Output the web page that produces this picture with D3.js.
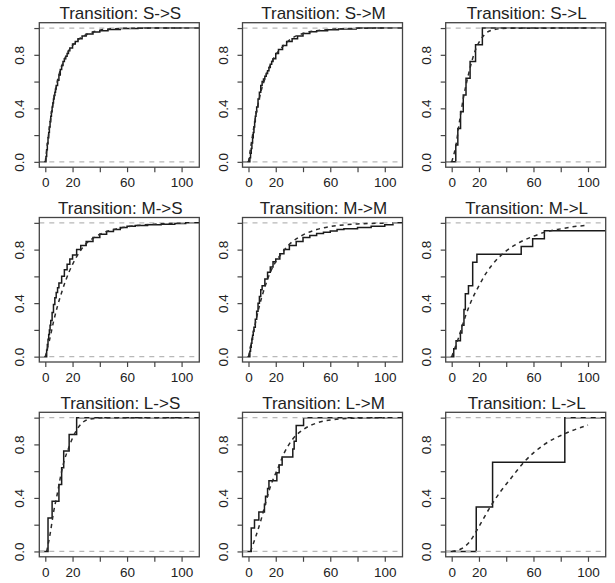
<!DOCTYPE html>
<html>
<head>
<meta charset="utf-8">
<script src="https://cdn.jsdelivr.net/npm/d3@7"></script>
<style>
  body { margin: 0; background: #fff; }
  svg { display: block; }
</style>
</head>
<body>
<svg id="chart" width="615" height="583"></svg>
<script>
// Panel titles, row by row
const transitions = ["S->S", "S->M", "S->L", "M->S", "M->M", "M->L", "L->S", "L->M", "L->L"];

// Empirical CDFs: [time, level after the jump]
const ecdfSS = [[0.5,0.04],[1,0.09],[1.5,0.135],[2,0.18],[2.5,0.22],[3,0.26],[3.5,0.3],[4,0.34],[4.5,0.375],[5,0.41],[5.5,0.44],[6,0.47],[6.5,0.495],[7,0.52],[7.5,0.545],[8,0.57],[9,0.61],[10,0.65],[11,0.69],[12,0.72],[13,0.75],[14,0.77],[15,0.79],[16,0.81],[17,0.83],[18,0.85],[20,0.88],[22,0.9],[24,0.92],[27,0.94],[30,0.955],[35,0.97],[40,0.98],[46,0.99],[55,0.997],[68,1]];
const ecdfSM = [[1,0.03],[1.5,0.065],[2,0.1],[2.5,0.14],[3,0.18],[3.5,0.22],[4,0.26],[4.5,0.3],[5,0.34],[5.5,0.375],[6,0.41],[7,0.47],[8,0.52],[9,0.57],[10,0.6],[11,0.62],[12,0.64],[13,0.66],[14,0.68],[15,0.705],[16,0.73],[17,0.75],[18,0.77],[20,0.81],[22,0.84],[25,0.87],[28,0.9],[32,0.92],[36,0.94],[40,0.96],[45,0.972],[50,0.98],[58,0.987],[66,0.992],[79,1]];
const ecdfSL = [[3,0.125],[4.5,0.25],[6.5,0.375],[8.5,0.5],[10.5,0.625],[13.5,0.75],[17.5,0.875],[22.5,1]];
const ecdfMS = [[1,0.05],[1.5,0.09],[2,0.13],[2.5,0.165],[3,0.2],[3.5,0.235],[4,0.27],[5,0.33],[6,0.39],[7,0.44],[8,0.48],[9,0.515],[10,0.55],[12,0.6],[14,0.65],[16,0.69],[18,0.73],[20,0.76],[23,0.8],[26,0.83],[30,0.86],[35,0.89],[40,0.915],[45,0.935],[50,0.95],[55,0.965],[60,0.975],[66,0.98],[75,0.985],[85,0.99],[95,0.995],[103,1]];
const ecdfMM = [[1,0.04],[1.5,0.07],[2,0.1],[2.5,0.13],[3,0.16],[3.5,0.19],[4,0.22],[5,0.28],[6,0.34],[7,0.4],[8,0.45],[9,0.5],[10,0.53],[12,0.58],[14,0.63],[16,0.67],[18,0.71],[20,0.73],[23,0.77],[26,0.8],[30,0.83],[35,0.86],[40,0.89],[45,0.905],[50,0.92],[55,0.93],[60,0.94],[65,0.95],[70,0.955],[80,0.965],[90,0.975],[100,0.985],[106,1]];
const ecdfML = [[1.5,0.059],[3.2,0.118],[6.4,0.176],[7.5,0.235],[9,0.353],[10,0.471],[12.3,0.529],[15.4,0.706],[18.5,0.765],[51,0.824],[59.4,0.882],[68,0.941]];
const ecdfLS = [[2,0.25],[5,0.375],[10,0.5],[12,0.625],[13.5,0.75],[17.5,0.875],[23,1]];
const ecdfLM = [[2,0.176],[4.4,0.235],[7.6,0.294],[11.7,0.353],[12.5,0.412],[14,0.471],[15,0.529],[20.8,0.588],[22.5,0.647],[24.7,0.706],[32.5,0.765],[33.5,0.824],[35,0.941],[40.4,1]];
const ecdfLL = [[18,0.333],[30,0.667],[83,1]];

// Fitted CDFs (dashed)
const fitSS = [[0,0],[2,0.17],[4,0.33],[6,0.46],[8,0.56],[10,0.65],[13,0.74],[16,0.81],[20,0.87],[25,0.92],[30,0.95],[40,0.984],[50,0.995],[65,0.999],[100,1]];
const fitSM = [[0,0],[3,0.2],[6,0.38],[9,0.52],[12,0.62],[15,0.7],[20,0.8],[25,0.86],[30,0.91],[40,0.96],[50,0.98],[60,0.99],[80,0.998],[100,1]];
const fitSL = [[0,0],[3,0.12],[6,0.32],[9,0.5],[12,0.64],[15,0.76],[18,0.85],[21,0.91],[25,0.96],[30,0.985],[40,0.998],[100,1]];
const fitMS = [[0,0],[3,0.12],[6,0.26],[9,0.38],[12,0.48],[15,0.57],[20,0.69],[25,0.78],[30,0.845],[35,0.885],[40,0.915],[50,0.95],[60,0.97],[80,0.99],[100,0.997]];
const fitMM = [[0,0],[4,0.2],[8,0.38],[12,0.52],[16,0.63],[20,0.71],[25,0.78],[30,0.84],[35,0.88],[40,0.91],[50,0.95],[60,0.972],[70,0.985],[80,0.992],[100,0.998]];
const fitML = [[0,0],[5,0.14],[10,0.3],[15,0.43],[20,0.53],[25,0.62],[30,0.69],[40,0.79],[50,0.855],[60,0.9],[70,0.935],[80,0.955],[90,0.972],[100,0.982]];
const fitLS = [[1,0],[3.7,0.14],[6,0.29],[8.6,0.42],[11,0.55],[13.4,0.66],[17,0.77],[21,0.87],[26,0.95],[33,0.99],[45,1],[100,1]];
const fitLM = [[1.5,0],[5.6,0.12],[9.3,0.24],[13,0.38],[16.6,0.5],[21.5,0.62],[26.4,0.74],[32.5,0.84],[40,0.91],[50,0.96],[62,0.985],[80,0.997],[100,1]];
const fitLL = [[0,0],[3,0.005],[7,0.02],[13,0.07],[18,0.15],[23,0.24],[29,0.345],[36,0.45],[43.5,0.547],[53,0.667],[68,0.8],[83,0.88],[100,0.945]];

const xTicks = [0, 20, 40, 60, 80, 100];
const xLabels = [0, 20, 60, 100];
const yTicks = [0, 0.2, 0.4, 0.6, 0.8, 1.0];
const yLabels = [0, 0.4, 0.8];

const ecdfs = [ecdfSS, ecdfSM, ecdfSL, ecdfMS, ecdfMM, ecdfML, ecdfLS, ecdfLM, ecdfLL];
const fits = [fitSS, fitSM, fitSL, fitMS, fitMM, fitML, fitLS, fitLM, fitLL];

// layout (pixels)
const BOX_W = 160, BOX_H = 144.5;
const COL_STEP = 203.2, ROW_STEP = 194.8;
const LEFT0 = 39.3, TOP0 = 22.7;
const FONT = "'Liberation Sans', Arial, Helvetica, sans-serif";

const svg = d3.select('#chart');
svg.append('rect').attr('width', 615).attr('height', 583).attr('fill', '#fff');

const x = d3.scaleLinear().domain([-4.4, 113]).range([0, BOX_W]);
const y = d3.scaleLinear().domain([-0.04, 1.04]).range([BOX_H, 0]);

const stepLine = d3.line().x(d => x(d[0])).y(d => y(d[1])).curve(d3.curveStepAfter);
const fitLine = d3.line().x(d => x(d[0])).y(d => y(d[1])).curve(d3.curveMonotoneX);

transitions.forEach((name, i) => {
  const col = i % 3, row = Math.floor(i / 3);
  const g = svg.append('g')
    .attr('transform', `translate(${LEFT0 + col * COL_STEP},${TOP0 + row * ROW_STEP})`);

  const clipId = 'clip' + i;
  g.append('clipPath').attr('id', clipId)
    .append('rect').attr('width', BOX_W).attr('height', BOX_H);
  const plot = g.append('g').attr('clip-path', `url(#${clipId})`);

  // step function, extended across the whole plot range
  const pts = ecdfs[i];
  const steps = [[x.domain()[0], 0], ...pts, [x.domain()[1], pts[pts.length - 1][1]]];
  plot.append('path')
    .attr('d', stepLine(steps))
    .attr('fill', 'none')
    .attr('stroke', '#1a1a1a')
    .attr('stroke-width', 1.5);

  // gray reference lines at 0 and 1
  [0, 1].forEach(v => {
    plot.append('line')
      .attr('x1', 0).attr('x2', BOX_W)
      .attr('y1', y(v)).attr('y2', y(v))
      .attr('stroke', '#b8b8b8')
      .attr('stroke-width', 1.3)
      .attr('stroke-dasharray', '5,5');
  });

  // fitted curve
  plot.append('path')
    .attr('d', fitLine(fits[i]))
    .attr('fill', 'none')
    .attr('stroke', '#2a2a2a')
    .attr('stroke-width', 1.5)
    .attr('stroke-dasharray', '4,4');

  // box
  g.append('rect')
    .attr('width', BOX_W).attr('height', BOX_H)
    .attr('fill', 'none')
    .attr('stroke', '#444')
    .attr('stroke-width', 1.3);

  // x axis
  const xa = g.append('g')
    .attr('transform', `translate(0,${BOX_H})`)
    .call(d3.axisBottom(x).tickValues(xTicks).tickSize(5)
      .tickFormat(d => xLabels.includes(d) ? String(d) : ''));
  xa.select('.domain').remove();
  xa.selectAll('line').attr('stroke', '#444').attr('stroke-width', 1.2);
  xa.selectAll('text')
    .attr('y', 20).attr('dy', 0)
    .attr('fill', '#222')
    .style('font-family', FONT).style('font-size', '13.5px');

  // y axis, labels parallel to the axis
  const ya = g.append('g')
    .call(d3.axisLeft(y).tickValues(yTicks).tickSize(5)
      .tickFormat(d => yLabels.some(v => Math.abs(v - d) < 1e-9) ? d3.format('.1f')(d) : ''));
  ya.select('.domain').remove();
  ya.selectAll('line').attr('stroke', '#444').attr('stroke-width', 1.2);
  ya.selectAll('text')
    .attr('x', 0).attr('y', 0).attr('dy', 0)
    .attr('text-anchor', 'middle')
    .attr('transform', 'translate(-15,0) rotate(-90)')
    .attr('fill', '#222')
    .style('font-family', FONT).style('font-size', '13.5px');

  // title
  g.append('text')
    .attr('x', BOX_W / 2 + 1)
    .attr('y', -3.5)
    .attr('text-anchor', 'middle')
    .attr('fill', '#222')
    .style('font-family', FONT)
    .style('font-size', '17px')
    .text('Transition: ' + name);
});
</script>
</body>
</html>
